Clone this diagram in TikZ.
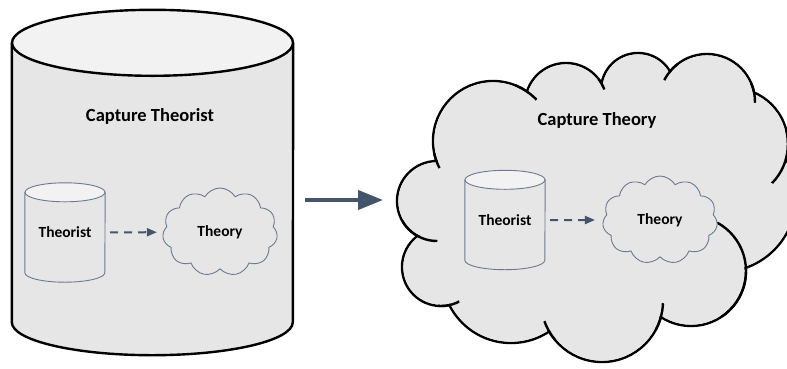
\documentclass[tikz,border=0pt]{standalone}
\usepackage{fontspec}
\setmainfont{Carlito}
\usepackage{xcolor}
\usepackage{tikz}
\usetikzlibrary{positioning, arrows.meta, shapes.symbols}
\definecolor{slate}{HTML}{44546A}
\definecolor{thinline}{HTML}{6B7A8F}
\definecolor{bodyfill}{HTML}{E6E6E6}
\definecolor{endfill}{HTML}{F2F2F2}
\pgfdeclarelayer{back}
\pgfdeclarelayer{mid}
\pgfsetlayers{back,mid,main}
\tikzset{
  drumbox/.style={inner sep=0pt, font=\fontsize{15.5}{18}\selectfont\bfseries},
  bigline/.style={draw=black, line width=2.4pt, line join=round},
  smallline/.style={draw=thinline, line width=0.9pt, line join=round},
  smallpuff/.style={cloud, smallline, fill=bodyfill, inner sep=0pt,
                    cloud puffs=11, cloud puff arc=120, aspect=1.3,
                    minimum width=115pt, minimum height=88pt,
                    font=\fontsize{15.5}{18}\selectfont\bfseries},
  title/.style={font=\fontsize{18.5}{22}\selectfont\bfseries},
  bigflow/.style={-{Triangle[length=25pt, width=19pt]}, slate, line width=4pt},
  dashflow/.style={-{Triangle[length=10pt, width=8pt]}, slate, line width=2pt,
                   dash pattern=on 8pt off 6pt}
}
\newcommand{\drumshape}[4][]{%
  \filldraw[#1, fill=bodyfill] ([yshift=-#4]#2.north west) -- ([yshift=#4]#2.south west)
    arc[start angle=180, end angle=360, x radius=#3, y radius=#4]
    -- ([yshift=-#4]#2.north east) -- cycle;
  \filldraw[#1, fill=endfill] ([yshift=-#4]#2.north) ellipse [x radius=#3, y radius=#4];
}
\def\lobes{437/201/40, 441/267/39, 511/274/69, 602/301/61, 691/271/55, 721/197/75,
  732/144/56, 707/102/48, 638/90/37, 566/104/41, 493/141/60}

\begin{document}
\begin{tikzpicture}[x=1pt, y=-1pt]
  \useasboundingbox (0,0) rectangle (787,368);
  \node[drumbox, minimum width=281pt, minimum height=345pt] (capdrum) at (152.5,182.5) {};
  \node[title] (captheorist) at (150,116) {Capture Theorist};
  \node[drumbox, minimum width=80pt, minimum height=99pt] (ltheorist) at (65,232.5) {Theorist};
  \node[smallpuff] (ltheory) at (220,232) {Theory};

  \node[title] (captheory) at (597,120) {Capture Theory};
  \node[drumbox, minimum width=80pt, minimum height=99pt] (rtheorist) at (505,220) {Theorist};
  \node[smallpuff] (rtheory) at (660,220) {Theory};
  \coordinate (cloudwest) at (397,200);

  \begin{pgfonlayer}{back}
    \drumshape[bigline]{capdrum}{140.5pt}{33pt}
    \clip (0,0) rectangle (787,368);
    \foreach \cx/\cy/\rad in \lobes
      \filldraw[bigline, fill=bodyfill] (\cx,\cy) circle[radius=\rad pt];
    \fill[bodyfill] (437,201) -- (441,267) -- (511,274) -- (602,301) -- (691,271)
      -- (721,197) -- (732,144) -- (707,102) -- (638,90) -- (566,104) -- (493,141) -- cycle;
    \foreach \cx/\cy/\rad in \lobes
      \fill[bodyfill] (\cx,\cy) circle[radius=\rad pt-1.4pt];
    \foreach \vx/\vy/\rh/\cx/\cy/\rad in {527/91/13/493/141/60, 602/84/6/566/104/41,
        670/71/11/707/102/48, 754/93/10/707/102/48, 786/159/28/732/144/56,
        746/268/54/691/271/55, 661/317/14/602/301/61, 549/331/11/602/301/61,
        449/305/11/441/267/39, 417/236/21/437/201/40, 436/161/8/493/141/60}{
      \begin{scope}
        \clip (\vx,\vy) circle[radius=\rh pt];
        \draw[bigline] (\cx,\cy) circle[radius=\rad pt];
      \end{scope}
    }
  \end{pgfonlayer}
  \begin{pgfonlayer}{mid}
    \drumshape[smallline]{ltheorist}{40pt}{9.5pt}
    \drumshape[smallline]{rtheorist}{40pt}{9.5pt}
  \end{pgfonlayer}

  \draw[dashflow, shorten <=5pt, shorten >=6pt] (ltheorist) -- (ltheory);
  \draw[dashflow, shorten <=5pt, shorten >=8pt] (rtheorist) -- (rtheory);
  \draw[bigflow, shorten <=12pt, shorten >=14pt] (capdrum.east |- cloudwest) -- (cloudwest);
\end{tikzpicture}
\end{document}
